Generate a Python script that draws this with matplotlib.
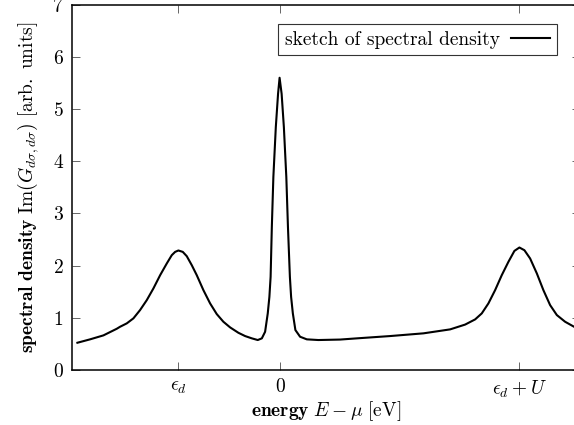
import numpy as np
import matplotlib
matplotlib.use("Agg")
import matplotlib.pyplot as plt

plt.rcParams['font.family'] = 'serif'
plt.rcParams['font.serif'] = ['cmr10']
plt.rcParams['mathtext.fontset'] = 'cm'
plt.rcParams['axes.unicode_minus'] = False
plt.rcParams['axes.formatter.use_mathtext'] = True

# points (energy in units where eps_d = -1)
energy = [-1.987, -1.863, -1.732, -1.601, -1.569, -1.503, -1.438, -1.373, -1.307, -1.242,
          -1.176, -1.111, -1.062, -1.029, -0.997, -0.954, -0.915, -0.866, -0.817, -0.752,
          -0.686, -0.621, -0.556, -0.490, -0.409, -0.343, -0.277, -0.219, -0.179, -0.147,
          -0.121, -0.105, -0.093, -0.081, -0.066, -0.042, -0.020, -0.005, 0.015, 0.037,
          0.061, 0.077, 0.096, 0.108, 0.125, 0.150, 0.196, 0.262, 0.375, 0.588,
          0.752, 1.078, 1.405, 1.667, 1.814, 1.912, 1.977, 2.042, 2.108, 2.173,
          2.238, 2.297, 2.346, 2.395, 2.451, 2.517, 2.581, 2.647, 2.713, 2.794,
          2.882, 2.941]
density = [0.522, 0.587, 0.663, 0.790, 0.828, 0.893, 0.989, 1.147, 1.338, 1.562,
           1.816, 2.040, 2.199, 2.262, 2.289, 2.262, 2.180, 2.008, 1.816, 1.530,
           1.275, 1.071, 0.924, 0.816, 0.713, 0.650, 0.606, 0.574, 0.606, 0.732,
           1.084, 1.400, 1.784, 2.740, 3.696, 4.652, 5.290, 5.597, 5.290, 4.652,
           3.696, 2.740, 1.784, 1.400, 1.084, 0.765, 0.637, 0.587, 0.574, 0.583,
           0.606, 0.650, 0.702, 0.778, 0.870, 0.969, 1.084, 1.275, 1.530, 1.816,
           2.071, 2.281, 2.346, 2.294, 2.136, 1.849, 1.530, 1.243, 1.052, 0.924,
           0.828, 0.780]

tick_pos = [-1.0, 0.0, 2.343]
tick_lab = [r'$\epsilon_d$', r'$0$', r'$\epsilon_d + U$']

fig = plt.figure(figsize=(5.74, 4.25), dpi=100)
ax = fig.add_axes([72/574, 55/425, 508/574, 365.5/425])
ax.plot(energy, density, color='black', lw=1.5, solid_joinstyle='round',
        label='sketch of spectral density')

ax.set_xlim(-2.04, 2.94)
ax.set_ylim(0, 7)
ax.set_xticks(tick_pos)
ax.set_xticklabels(tick_lab)
ax.set_yticks(range(8))
ax.tick_params(direction='in', top=True, right=True, length=6, width=0.6,
               labelsize=14, color='0.3')
ax.tick_params(axis='x', pad=6)
ax.tick_params(axis='y', pad=6)
for s in ax.spines.values():
    s.set_linewidth(1.1)

ax.set_xlabel(r'$\mathbf{energy}\ E-\mu\ \mathrm{[eV]}$', fontsize=14, labelpad=0)
ax.set_ylabel(r'$\mathbf{spectral\ density}\ \mathrm{Im}(G_{d\sigma,d\sigma})\ \mathrm{[arb.\ units]}$',
              fontsize=14, labelpad=8)

leg = ax.legend(loc='upper right', bbox_to_anchor=(0.955, 0.947), borderaxespad=0,
                markerfirst=False, fancybox=False, edgecolor='0.2', fontsize=14,
                handlelength=2.0, borderpad=0.35, handletextpad=0.6, framealpha=1)
leg.get_frame().set_linewidth(0.8)

fig.savefig('out.png', dpi=100)
